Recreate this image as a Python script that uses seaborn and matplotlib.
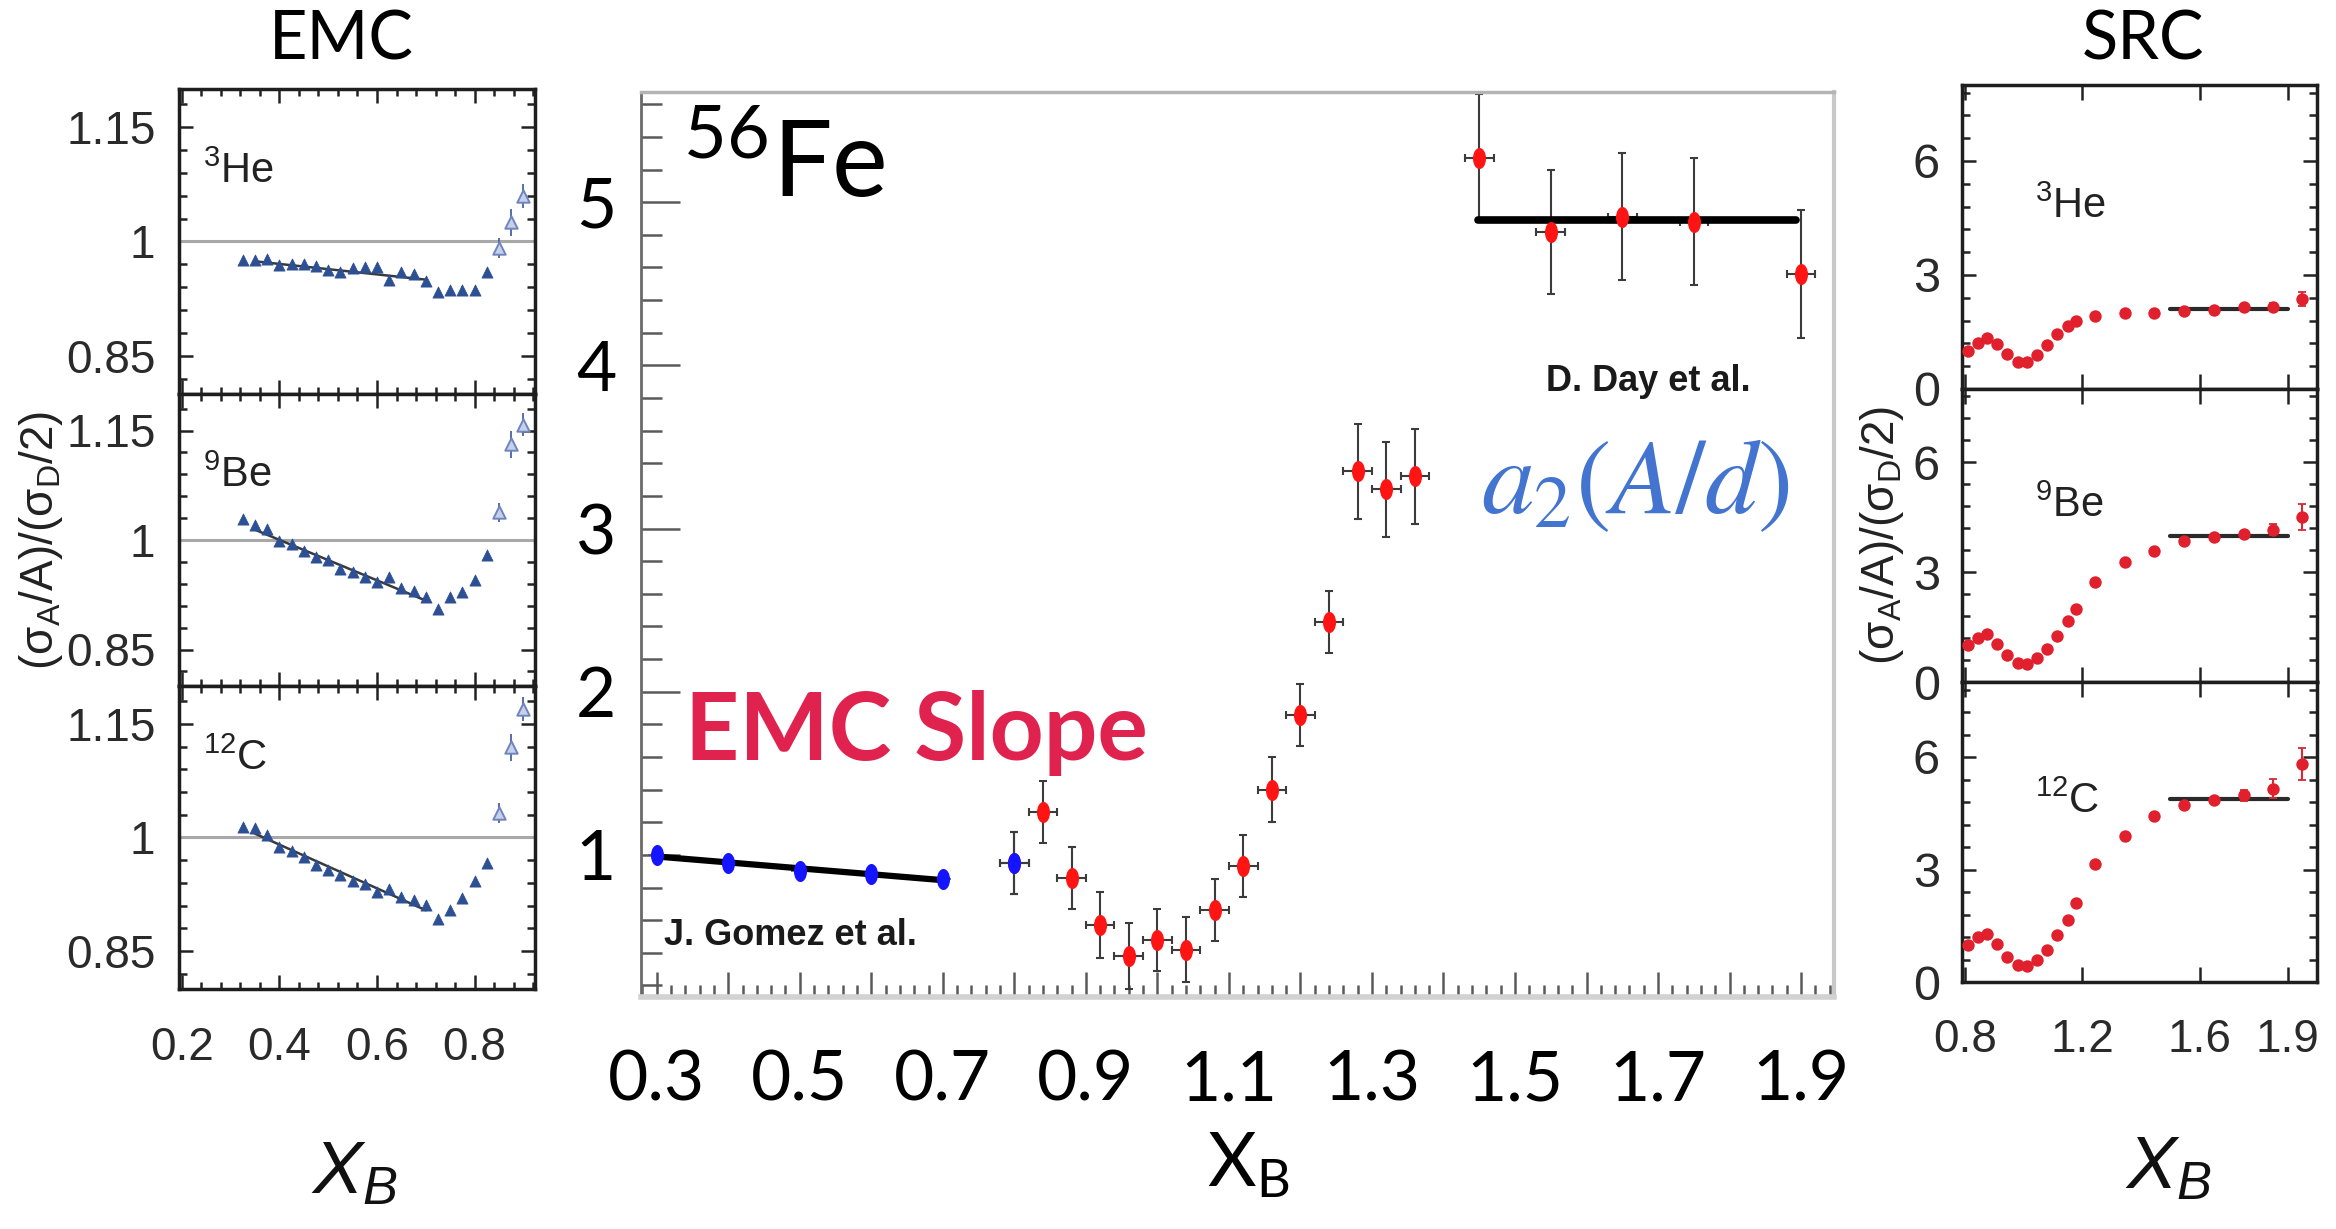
import matplotlib
matplotlib.use("Agg")
import matplotlib.pyplot as plt
import seaborn as sns
from matplotlib import font_manager
from matplotlib.path import Path
from matplotlib.markers import MarkerStyle
from matplotlib.transforms import Affine2D
from matplotlib.ticker import FixedLocator, NullFormatter

# ---------------- data ----------------
# EMC ratios (left column), x_B
emc_x = [0.325, 0.35, 0.375, 0.40, 0.425, 0.45, 0.475, 0.50, 0.525, 0.55, 0.575, 0.60,
         0.625, 0.65, 0.675, 0.70, 0.725, 0.75, 0.775, 0.80, 0.825, 0.85, 0.875, 0.90]
he3_emc = [0.976, 0.976, 0.977, 0.969, 0.971, 0.970, 0.968, 0.962, 0.960, 0.965, 0.966, 0.966,
           0.949, 0.960, 0.957, 0.948, 0.934, 0.936, 0.937, 0.936, 0.960, 0.991, 1.025, 1.060]
be9_emc = [1.029, 1.021, 1.015, 0.998, 0.994, 0.985, 0.977, 0.973, 0.960, 0.956, 0.949, 0.942,
           0.949, 0.934, 0.930, 0.922, 0.906, 0.922, 0.929, 0.945, 0.979, 1.038, 1.131, 1.158]
c12_emc = [1.014, 1.012, 1.003, 0.988, 0.982, 0.974, 0.964, 0.957, 0.950, 0.942, 0.939, 0.928,
           0.932, 0.921, 0.918, 0.911, 0.893, 0.904, 0.920, 0.942, 0.966, 1.032, 1.119, 1.170]
emc_err = [0.004] * 21 + [0.013, 0.018, 0.016]
emc_open_from = 21            # last points drawn as open markers
emc_fit_x = [0.35, 0.70]
he3_emc_fit = [0.974, 0.950]
be9_emc_fit = [1.014, 0.917]
c12_emc_fit = [1.005, 0.904]

# 56Fe (centre)
gomez_x = [0.3, 0.4, 0.5, 0.6, 0.7]
gomez_y = [1.00, 0.95, 0.90, 0.88, 0.85]
gomez_fit_x = [0.30, 0.70]
gomez_fit_y = [0.99, 0.845]
blue_x, blue_y, blue_err = 0.80, 0.953, 0.19
fe_x = [0.80, 0.84, 0.88, 0.92, 0.96, 1.00, 1.04, 1.08, 1.12, 1.16, 1.20, 1.24, 1.28, 1.32, 1.36]
fe_y = [0.95, 1.26, 0.86, 0.57, 0.38, 0.48, 0.42, 0.66, 0.93, 1.40, 1.86, 2.43, 3.35, 3.24, 3.32]
fe_err = [0.19, 0.19, 0.19, 0.20, 0.20, 0.19, 0.20, 0.19, 0.19, 0.20, 0.19, 0.19, 0.29, 0.29, 0.29]
day_x = [1.45, 1.55, 1.65, 1.75, 1.90]
day_y = [5.27, 4.82, 4.91, 4.88, 4.56]
day_err = [0.39, 0.38, 0.39, 0.39, 0.39]
day_fit_x = [1.448, 1.893]
day_fit_y = [4.89, 4.89]
fe_xerr = 0.02

# SRC ratios (right column)
src_x = [0.81, 0.845, 0.875, 0.91, 0.945, 0.98, 1.01, 1.045, 1.08, 1.115, 1.15, 1.18,
         1.245, 1.345, 1.445, 1.545, 1.65, 1.75, 1.85, 1.95]
he3_src = [1.00, 1.22, 1.35, 1.19, 0.93, 0.72, 0.72, 0.89, 1.16, 1.44, 1.66, 1.79,
           1.92, 1.99, 2.01, 2.05, 2.07, 2.16, 2.16, 2.36]
be9_src = [1.00, 1.21, 1.30, 1.05, 0.73, 0.53, 0.48, 0.65, 0.91, 1.25, 1.66, 2.00,
           2.73, 3.27, 3.59, 3.86, 3.97, 4.03, 4.16, 4.50]
c12_src = [1.00, 1.20, 1.29, 1.02, 0.67, 0.46, 0.42, 0.58, 0.85, 1.25, 1.65, 2.11,
           3.16, 3.89, 4.42, 4.71, 4.85, 4.98, 5.16, 5.82]
he3_src_err = [0] * 17 + [0.08, 0.10, 0.18]
be9_src_err = [0] * 17 + [0.10, 0.15, 0.35]
c12_src_err = [0] * 17 + [0.15, 0.25, 0.42]
src_fit_x = [1.5, 1.9]
he3_src_fit = [2.10, 2.10]
be9_src_fit = [4.00, 4.00]
c12_src_fit = [4.89, 4.89]

emc_ticks = [0.2, 0.4, 0.6, 0.8]
emc_ticklabels = ["0.2", "0.4", "0.6", "0.8"]
emc_yticks = [0.85, 1.0, 1.15]
emc_yticklabels = ["0.85", "1", "1.15"]
fe_xlabels = ["0.3", "0.5", "0.7", "0.9", "1.1", "1.3", "1.5", "1.7", "1.9"]
fe_ylabels = ["1", "2", "3", "4", "5"]
src_ticks = [0.8, 1.2, 1.6, 1.9]
src_ticklabels = ["0.8", "1.2", "1.6", "1.9"]
src_yticks = [0, 3, 6]
src_yticklabels = ["0", "3", "6"]

# ---------------- style ----------------
sns.set_theme(style="ticks")
installed = {f.name for f in font_manager.fontManager.ttflist}
narrow = "Liberation Sans Narrow" if "Liberation Sans Narrow" in installed else "Liberation Sans"
plt.rcParams["font.family"] = [narrow, "DejaVu Sans"]
plt.rcParams["mathtext.fontset"] = "custom"
plt.rcParams["mathtext.rm"] = narrow
plt.rcParams["mathtext.it"] = narrow + ":italic"
plt.rcParams["mathtext.bf"] = narrow + ":bold"
SLIDE = ["Lato", "DejaVu Sans"]

W, H = 2336, 1229
fig = plt.figure(figsize=(W / 100, H / 100), dpi=100)
fig.patch.set_facecolor("white")


def box(x0, y0, x1, y1):
    return fig.add_axes([x0 / W, 1 - y1 / H, (x1 - x0) / W, (y1 - y0) / H])


def ftext(x, y, s, **kw):
    return fig.text(x / W, 1 - y / H, s, **kw)


# ---------------- EMC column ----------------
emc_boxes = [(179, 89, 535, 394), (179, 394, 535, 686), (179, 686, 535, 989)]
emc_sets = [(he3_emc, he3_emc_fit, "3", "He", 183),
            (be9_emc, be9_emc_fit, "9", "Be", 487),
            (c12_emc, c12_emc_fit, "12", "C", 770)]
emc_minor_x = [0.2 + 0.04 * i for i in range(19)]
emc_minor_y = [0.82 + 0.03 * i for i in range(13)]
for i, ((x0, y0, x1, y1), (vals, fit, mass, sym, base)) in enumerate(zip(emc_boxes, emc_sets)):
    ax = box(x0, y0, x1, y1)
    ax.set_facecolor("white")
    ax.axhline(1.0, color="#a8a8a8", lw=2.2, zorder=1)
    sns.lineplot(x=emc_fit_x, y=fit, ax=ax, color="#3a3a3a", lw=1.8, zorder=2)
    ax.errorbar(emc_x, vals, yerr=emc_err, fmt="none", ecolor="#4a63a0", elinewidth=1.3, zorder=3)
    sns.scatterplot(x=emc_x[:emc_open_from], y=vals[:emc_open_from], ax=ax, marker="^", s=65,
                    color="#2d4f93", edgecolor="#2d4f93", linewidth=0.5, zorder=4)
    sns.scatterplot(x=emc_x[emc_open_from:], y=vals[emc_open_from:], ax=ax, marker="^", s=80,
                    color="#c7d0ea", edgecolor="#6f85bd", linewidth=1.4, zorder=4)
    ax.set_xlim(0.194, 0.924)
    ax.set_ylim(0.8, 1.2)
    ax.xaxis.set_major_locator(FixedLocator(emc_ticks))
    ax.xaxis.set_minor_locator(FixedLocator(emc_minor_x))
    ax.yaxis.set_major_locator(FixedLocator(emc_yticks))
    ax.yaxis.set_minor_locator(FixedLocator(emc_minor_y))
    ax.set_yticklabels(emc_yticklabels)
    if i == 2:
        ax.set_xticklabels(emc_ticklabels)
    else:
        ax.xaxis.set_major_formatter(NullFormatter())
    ax.tick_params(axis="both", which="both", direction="in", top=True, right=True,
                   colors="#222222", width=1.8, labelcolor="#2a2a2a")
    ax.tick_params(axis="x", which="major", length=10, labelsize=33, pad=27)
    ax.tick_params(axis="x", which="minor", length=5)
    ax.tick_params(axis="y", which="major", length=10, labelsize=33, pad=17)
    ax.tick_params(axis="y", which="minor", length=6)
    for sp in ax.spines.values():
        sp.set_linewidth(2.5)
        sp.set_color("#1e1e1e")
    ax.set_xlabel("")
    ax.set_ylabel("")
    ftext(203, base, r"$\mathregular{^{%s}%s}$" % (mass, sym), fontsize=30, color="#222222",
          va="baseline", ha="left")

ftext(341, 41, "EMC", family=SLIDE, fontsize=48, ha="center", va="center", color="black")
ftext(41, 540, r"$\mathregular{(\sigma_A/A)/(\sigma_D/2)}$", fontsize=33, rotation=90,
      ha="center", va="center", color="#222222")
ftext(311, 1193, r"$X_B$", fontsize=54, ha="left", va="baseline", color="#111111")

# ---------------- 56Fe centre ----------------
axc = box(641, 92, 1834, 997)
axc.set_xlim(0.278, 1.946)
axc.set_ylim(0.129, 5.675)
ell = MarkerStyle(Path.unit_circle().transformed(Affine2D().scale(0.62, 1.0)))

sns.lineplot(x=gomez_fit_x, y=gomez_fit_y, ax=axc, color="black", lw=4.5, zorder=3)
sns.lineplot(x=day_fit_x, y=day_fit_y, ax=axc, color="black", lw=5.5, zorder=3)
axc.errorbar(fe_x, fe_y, yerr=fe_err, xerr=fe_xerr, fmt="none", ecolor="#3c3c3c",
             elinewidth=1.5, capsize=3, capthick=1.5, zorder=2)
axc.errorbar(day_x, day_y, yerr=day_err, xerr=fe_xerr, fmt="none", ecolor="#3c3c3c",
             elinewidth=1.5, capsize=3, capthick=1.5, zorder=2)
axc.errorbar(gomez_x, gomez_y, xerr=0.012, fmt="none", ecolor="#555555",
             elinewidth=1.2, zorder=2)
sns.scatterplot(x=fe_x + day_x, y=fe_y + day_y, ax=axc, marker=ell, s=230,
                color="#ff1414", linewidth=0, zorder=4)
axc.errorbar([blue_x], [blue_y], yerr=blue_err, xerr=fe_xerr, fmt="none", ecolor="#3c3c3c",
             elinewidth=1.5, capsize=3, capthick=1.5, zorder=5)
sns.scatterplot(x=gomez_x + [blue_x], y=gomez_y + [blue_y], ax=axc, marker=ell, s=230,
                color="#1414ff", linewidth=0, zorder=6)

axc.xaxis.set_major_locator(FixedLocator([0.3 + 0.1 * k for k in range(17)]))
axc.xaxis.set_minor_locator(FixedLocator([0.28 + 0.02 * k for k in range(84)]))
axc.set_xticklabels([fe_xlabels[k // 2] if k % 2 == 0 else "" for k in range(17)],
                    family=SLIDE, fontsize=50)
axc.yaxis.set_major_locator(FixedLocator([1, 2, 3, 4, 5]))
axc.yaxis.set_minor_locator(FixedLocator([0.2 * k for k in range(1, 29)]))
axc.set_yticklabels(fe_ylabels, family=SLIDE, fontsize=50)
axc.tick_params(axis="both", which="both", direction="in", colors="#5a5a5a", width=1.8,
                labelcolor="black")
axc.tick_params(axis="y", which="major", length=28, pad=18)
axc.tick_params(axis="y", which="minor", length=15)
axc.tick_params(axis="x", which="major", length=18, pad=38)
axc.tick_params(axis="x", which="minor", length=9)
axc.spines["left"].set_color("#6a6a6a")
axc.spines["left"].set_linewidth(2)
axc.spines["top"].set_color("#b4b4b4")
axc.spines["top"].set_linewidth(2.5)
axc.spines["right"].set_color("#c8c8c8")
axc.spines["right"].set_linewidth(3)
axc.spines["bottom"].set_color("#d2d2d2")
axc.spines["bottom"].set_linewidth(4)
axc.set_xlabel("")
axc.set_ylabel("")

ftext(683, 197, r"$\mathregular{^{56}Fe}$", family=SLIDE, fontsize=76, ha="left",
      va="baseline", color="black")
ftext(685, 760, "EMC Slope", family=SLIDE, fontsize=68, fontweight="bold", ha="left",
      va="baseline", color="#e0234e")
ftext(1481, 513, r"$a_2(A/d)$", fontsize=76, math_fontfamily="stix", ha="left",
      va="baseline", color="#4274d0")
ftext(664, 945, "J. Gomez et al.", fontsize=26, fontweight="bold", ha="left",
      va="baseline", color="#1a1a1a")
ftext(1546, 391, "D. Day et al.", fontsize=26, fontweight="bold", ha="left",
      va="baseline", color="#1a1a1a")
ftext(1207, 1187, r"$\mathregular{X_B}$", family=SLIDE, fontsize=54, ha="left",
      va="baseline", color="black")

# ---------------- SRC column ----------------
src_boxes = [(1962, 85, 2317, 389), (1962, 389, 2317, 682), (1962, 682, 2317, 982)]
src_sets = [(he3_src, he3_src_err, he3_src_fit, "3", "He", 218),
            (be9_src, be9_src_err, be9_src_fit, "9", "Be", 517),
            (c12_src, c12_src_err, c12_src_fit, "12", "C", 813)]
src_minor_y = [0.6 * k for k in range(1, 14)]
for i, ((x0, y0, x1, y1), (vals, errs, fit, mass, sym, base)) in enumerate(zip(src_boxes, src_sets)):
    ax = box(x0, y0, x1, y1)
    ax.set_facecolor("white")
    sns.lineplot(x=src_fit_x, y=fit, ax=ax, color="#2a2a2a", lw=3, zorder=2)
    ax.errorbar(src_x, vals, yerr=errs, fmt="none", ecolor="#d42a35", elinewidth=1.5,
                capsize=3, capthick=1.3, zorder=3)
    sns.scatterplot(x=src_x, y=vals, ax=ax, marker="o", s=80, color="#e0202d",
                    linewidth=0, zorder=4)
    ax.set_xlim(0.79, 2.0)
    ax.set_ylim(0, 8)
    ax.xaxis.set_major_locator(FixedLocator(src_ticks))
    ax.yaxis.set_major_locator(FixedLocator(src_yticks))
    ax.yaxis.set_minor_locator(FixedLocator(src_minor_y))
    ax.set_yticklabels(src_yticklabels)
    if i == 2:
        ax.set_xticklabels(src_ticklabels)
    else:
        ax.xaxis.set_major_formatter(NullFormatter())
    ax.tick_params(axis="both", which="both", direction="in", top=True, right=True,
                   colors="#222222", width=1.8, labelcolor="#2a2a2a")
    ax.tick_params(axis="x", which="major", length=11, labelsize=33, pad=26)
    ax.tick_params(axis="y", which="major", length=10, labelsize=35, pad=16)
    ax.tick_params(axis="y", which="minor", length=6)
    for sp in ax.spines.values():
        sp.set_linewidth(2.5)
        sp.set_color("#1e1e1e")
    ax.set_xlabel("")
    ax.set_ylabel("")
    ftext(2035, base, r"$\mathregular{^{%s}%s}$" % (mass, sym), fontsize=30, color="#222222",
          va="baseline", ha="left")

ftext(2143, 41, "SRC", family=SLIDE, fontsize=48, ha="center", va="center", color="black")
ftext(1882, 535, r"$\mathregular{(\sigma_A/A)/(\sigma_D/2)}$", fontsize=33, rotation=90,
      ha="center", va="center", color="#222222")
ftext(2125, 1188, r"$X_B$", fontsize=54, ha="left", va="baseline", color="#111111")

fig.savefig("out.png", dpi=100, facecolor="white")
